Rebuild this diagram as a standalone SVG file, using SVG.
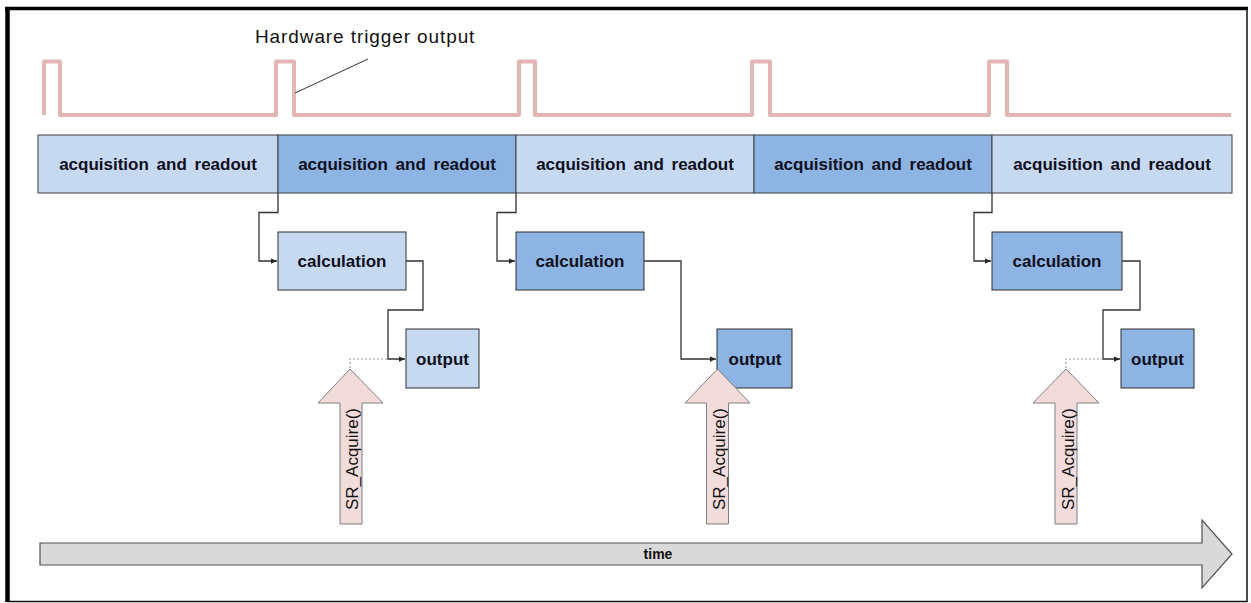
<svg xmlns="http://www.w3.org/2000/svg" width="1251" height="603" viewBox="0 0 1251 603">
<defs>
<marker id="ah" viewBox="0 0 8 8" refX="8" refY="4" markerWidth="6" markerHeight="6" markerUnits="userSpaceOnUse" orient="auto">
<path d="M0,0.5 L8,4 L0,7.5 Z" fill="#262626"/>
</marker>
<filter id="soft" x="-5%" y="-20%" width="110%" height="140%">
<feGaussianBlur stdDeviation="0.7"/>
</filter>
</defs>
<style>
.acq{stroke:#3f3f3f;stroke-width:1}
.light{fill:#c6d9f1}
.dark{fill:#8db4e2}
.box{stroke:#2e2e2e;stroke-width:1}
.lbl{font-family:"Liberation Sans",Arial,sans-serif;font-weight:bold;font-size:17px;fill:#10101e;text-anchor:middle}
.conn{fill:none;stroke:#333;stroke-width:1.3}
.dot{fill:none;stroke:#9a9a9a;stroke-width:1.2;stroke-dasharray:2,2}
.sr{fill:#f2dcdb;stroke:#7f7f7f;stroke-width:1}
.srt{font-family:"Liberation Sans",Arial,sans-serif;font-size:17px;fill:#111;text-anchor:middle}
</style>
<rect width="1251" height="603" fill="#fff"/>
<!-- frame -->
<g id="frame">
<rect x="8" y="8.5" width="1239" height="593" fill="none" stroke="#111" stroke-width="1.5"/>
<line x1="5" y1="8.5" x2="1248" y2="8.5" stroke="#000" stroke-width="3.5"/>
<line x1="7.5" y1="7" x2="7.5" y2="602" stroke="#000" stroke-width="4.5"/>
</g>
<!-- trigger signal -->
<g id="trigger">
<path d="M44,115 L44,61.5 L60,61.5 L60,115 L276,115 L276,61.5 L294,61.5 L294,115 L519,115 L519,61.5 L535,61.5 L535,115 L752,115 L752,61.5 L770,61.5 L770,115 L989,115 L989,61.5 L1007,61.5 L1007,115 L1231,115" fill="none" stroke="#e2b6b5" stroke-width="4" stroke-linejoin="round" filter="url(#soft)"/>
<text x="255" y="43" font-family="'Liberation Sans',Arial,sans-serif" font-size="19" letter-spacing="0.9" fill="#111">Hardware trigger output</text>
<line x1="295" y1="93" x2="368" y2="59" stroke="#333" stroke-width="1"/>
</g>
<!-- acquisition row -->
<g id="acq1"><rect class="acq light" x="38" y="135" width="240" height="58"/><text class="lbl" x="158" y="170" word-spacing="3">acquisition and readout</text></g>
<g id="acq2"><rect class="acq dark" x="278" y="135" width="238" height="58"/><text class="lbl" x="397" y="170" word-spacing="3">acquisition and readout</text></g>
<g id="acq3"><rect class="acq light" x="516" y="135" width="238" height="58"/><text class="lbl" x="635" y="170" word-spacing="3">acquisition and readout</text></g>
<g id="acq4"><rect class="acq dark" x="754" y="135" width="238" height="58"/><text class="lbl" x="873" y="170" word-spacing="3">acquisition and readout</text></g>
<g id="acq5"><rect class="acq light" x="992" y="135" width="240" height="58"/><text class="lbl" x="1112" y="170" word-spacing="3">acquisition and readout</text></g>
<!-- calculation boxes -->
<g id="calc1"><rect class="box light" x="278" y="232" width="128" height="58"/><text class="lbl" x="342" y="267">calculation</text></g>
<g id="calc2"><rect class="box dark" x="516" y="232" width="128" height="58"/><text class="lbl" x="580" y="267">calculation</text></g>
<g id="calc3"><rect class="box dark" x="992" y="232" width="130" height="58"/><text class="lbl" x="1057" y="267">calculation</text></g>
<!-- output boxes -->
<g id="out1"><rect class="box light" x="406" y="329" width="73" height="59"/><text class="lbl" x="442.5" y="365">output</text></g>
<g id="out2"><rect class="box dark" x="717" y="329" width="75" height="59"/><text class="lbl" x="755" y="365">output</text></g>
<g id="out3"><rect class="box dark" x="1121" y="329" width="73" height="59"/><text class="lbl" x="1157.5" y="365">output</text></g>
<!-- connectors -->
<g id="connectors">
<path class="conn" d="M278,193 L278,212.5 L259,212.5 L259,261 L277,261" marker-end="url(#ah)"/>
<path class="conn" d="M406,261 L423,261 L423,310 L388,310 L388,359 L405,359" marker-end="url(#ah)"/>
<path class="conn" d="M516,193 L516,212.5 L497,212.5 L497,261 L515,261" marker-end="url(#ah)"/>
<path class="conn" d="M644,261 L681,261 L681,359 L716,359" marker-end="url(#ah)"/>
<path class="conn" d="M992,193 L992,212.5 L974,212.5 L974,261 L991,261" marker-end="url(#ah)"/>
<path class="conn" d="M1122,261 L1140,261 L1140,310 L1103,310 L1103,359 L1120,359" marker-end="url(#ah)"/>
<path class="dot" d="M350,368 L350,359 L388,359"/>
<path class="dot" d="M1066,368 L1066,359 L1103,359"/>
</g>
<!-- SR_Acquire arrows -->
<g id="sr1"><path class="sr" d="M350,369 L383,403 L362,403 L362,524 L340,524 L340,403 L318,403 Z"/><text class="srt" transform="translate(357.5,459) rotate(-90)">SR_Acquire()</text></g>
<g id="sr2"><path class="sr" d="M717.5,369 L750,403 L728.5,403 L728.5,524 L706.5,524 L706.5,403 L685,403 Z"/><text class="srt" transform="translate(725,459) rotate(-90)">SR_Acquire()</text></g>
<g id="sr3"><path class="sr" d="M1066,369 L1099,403 L1077,403 L1077,524 L1055,524 L1055,403 L1033,403 Z"/><text class="srt" transform="translate(1074,459) rotate(-90)">SR_Acquire()</text></g>
<!-- time arrow -->
<g id="time">
<path d="M40,543 L1202,543 L1202,520 L1232,554 L1202,588 L1202,565 L40,565 Z" fill="#d9d9d9" stroke="#505050" stroke-width="1.2"/>
<text x="658" y="559" font-family="'Liberation Sans',Arial,sans-serif" font-weight="bold" font-size="14" fill="#111" text-anchor="middle">time</text>
</g>
</svg>
